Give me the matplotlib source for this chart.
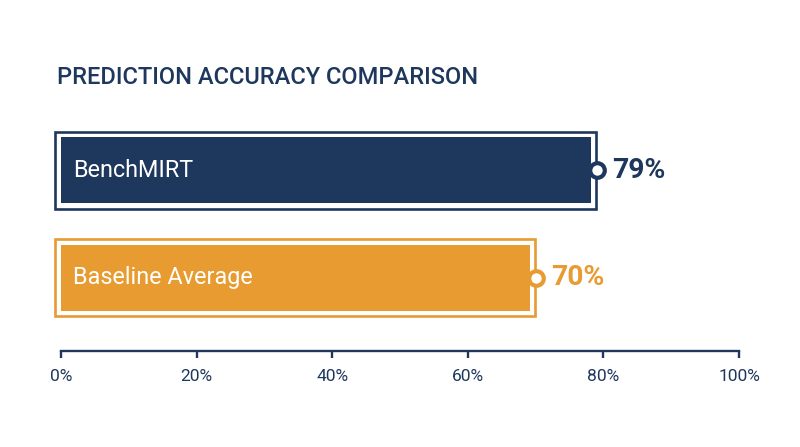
import matplotlib
matplotlib.use('Agg')
import matplotlib.pyplot as plt
from matplotlib.patches import Rectangle

plt.rcParams['font.family'] = ['Roboto', 'DejaVu Sans']

# data
models = ['BenchMIRT', 'Baseline Average']
accuracy = [79, 70]
colors = ['#1e375c', '#e89b30']
ticks = [0, 20, 40, 60, 80, 100]
tick_labels = ['0%', '20%', '40%', '60%', '80%', '100%']

navy = '#1e375c'

fig = plt.figure(figsize=(8, 4.47), dpi=100)
ax = fig.add_axes([61 / 800, 1 - 351 / 447, 678 / 800, 231 / 447])

ypos = list(range(len(models)))
fill_h = 0.611
box_h = 0.713

for y, name, v, c in zip(ypos, models, accuracy, colors):
    # inner filled bar
    ax.barh(y, v - 0.85, left=0, height=fill_h, color=c, zorder=2)
    # outline around it
    ax.add_patch(Rectangle((-0.9, y - box_h / 2), v - 0.1 + 0.9, box_h,
                           facecolor='none', edgecolor=c, linewidth=1.9,
                           clip_on=False, zorder=2))
    # end marker
    ax.plot(v, y, 'o', markersize=10.5, markerfacecolor='white',
            markeredgecolor=c, markeredgewidth=3.0, clip_on=False, zorder=4)
    ax.text(1.8, y, name, color='white', fontsize=16.8, va='center', ha='left', zorder=3)
    ax.annotate(f'{v}%', (v, y), xytext=(11.5, 0), textcoords='offset points',
                color=c, fontsize=20.3, fontweight='bold', va='center', ha='left')

ax.set_xlim(0, 100)
ax.set_ylim(1.676, -0.463)
ax.set_xticks(ticks)
ax.set_xticklabels(tick_labels)
ax.set_yticks([])
for s in ['top', 'right', 'left']:
    ax.spines[s].set_visible(False)
ax.spines['bottom'].set_color(navy)
ax.spines['bottom'].set_linewidth(1.7)
ax.tick_params(axis='x', colors=navy, labelcolor=navy, length=5, width=1.7,
               labelsize=12.5, pad=8)

fig.text(57 / 800, 1 - 77 / 447, 'PREDICTION ACCURACY COMPARISON', color=navy,
         fontsize=17, fontweight='medium', va='center', ha='left')

fig.savefig('out.png', dpi=100, facecolor='white')
